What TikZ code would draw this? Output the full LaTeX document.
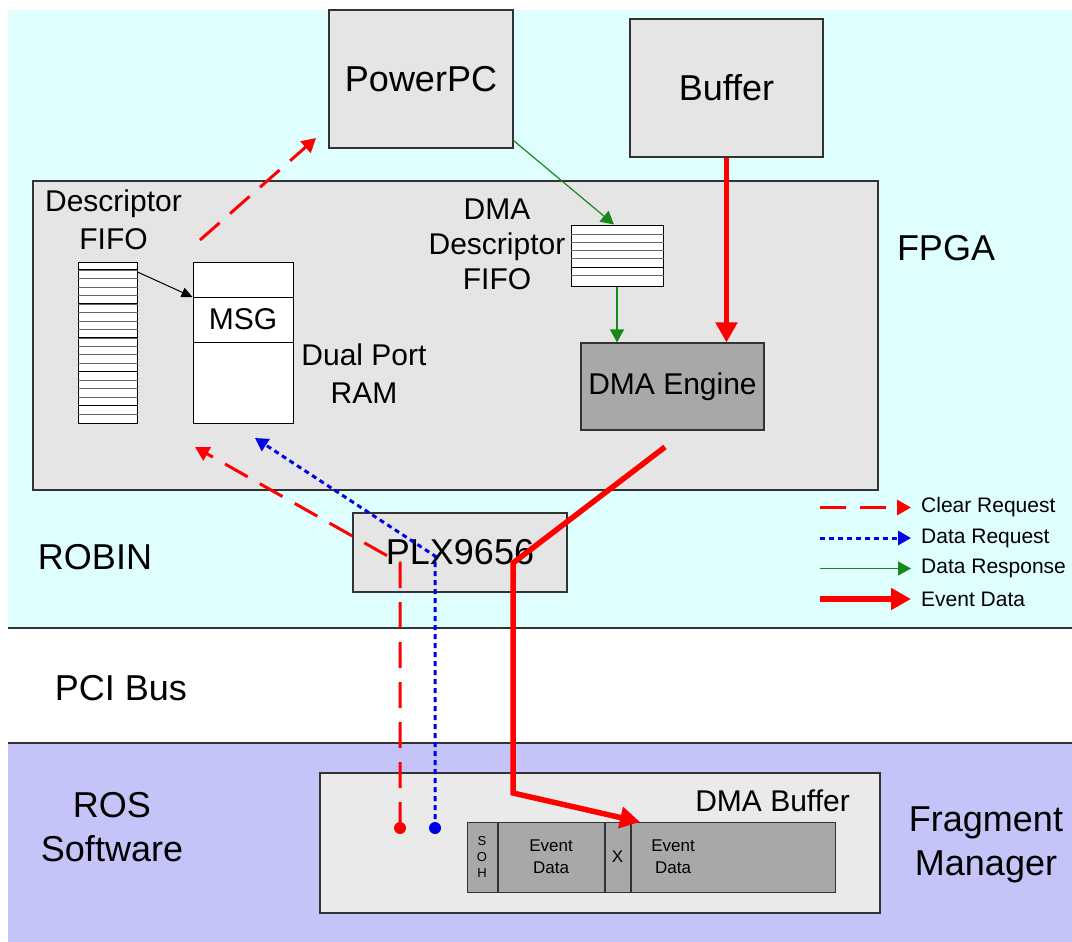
\documentclass[tikz,border=0pt]{standalone}
\usepackage{fontspec}
\setmainfont{Liberation Sans}
\usetikzlibrary{arrows.meta, positioning}

\definecolor{robincyan}{RGB}{223,255,255}
\definecolor{roslav}{RGB}{196,196,248}
\definecolor{boxgray}{RGB}{229,229,229}
\definecolor{enggray}{RGB}{168,168,168}
\definecolor{respgreen}{RGB}{25,135,25}

\begin{document}
\begin{tikzpicture}[x=1pt, y=-1pt, inner sep=0pt]
  \tikzstyle{blk}=[draw=black!80, fill=boxgray, line width=1.2pt]
  \tikzstyle{fifo}=[draw=black, fill=white, line width=1pt]
  \tikzstyle{seg}=[draw=black!80, fill=enggray, line width=1pt, minimum height=70pt]
  \tikzstyle{big}=[font=\fontsize{36}{44}\selectfont, align=center]
  \tikzstyle{mid}=[font=\fontsize{30}{38}\selectfont, align=center]
  \tikzstyle{legend}=[font=\fontsize{21}{25}\selectfont]
  \tikzstyle{small}=[font=\fontsize{17}{22}\selectfont, align=center]
  \tikzstyle{clearreq}=[red, line width=3pt, dash pattern=on 26pt off 14pt, -{Triangle[length=14pt, width=15pt]}]
  \tikzstyle{datareq}=[blue!90!black, line width=3pt, dash pattern=on 5pt off 4pt, -{Triangle[length=13pt, width=14pt]}]
  \tikzstyle{dataresp}=[respgreen, line width=1.2pt, -{Triangle[length=13pt, width=14pt]}]
  \tikzstyle{eventdata}=[red, line width=5.5pt, -{Triangle[length=20pt, width=21pt]}]

  \useasboundingbox (0,0) rectangle (1072,942);

  % layers
  \fill[white] (0,0) rectangle (1072,942);
  \fill[robincyan] (8,10) rectangle (1072,628);
  \fill[roslav] (8,743) rectangle (1072,942);
  \draw[black!80, line width=1.5pt] (8,628) -- (1072,628);
  \draw[black!80, line width=1.5pt] (8,743) -- (1072,743);

  \node[big] (robin) at (95,557) {ROBIN};
  \node[big] (pci) at (121,688) {PCI Bus};
  \node[big] (rossw) at (112,827) {ROS\\Software};
  \node[big] (fragmgr) at (986,845) {Fragment\\Manager};

  % FPGA
  \node[blk, minimum width=845pt, minimum height=309pt] (fpga) at (455.5,335.5) {};
  \node[big] (fpgalbl) at (946,248) {FPGA};
  \node[blk, minimum width=184pt, minimum height=138pt, big] (ppc) at (421,79) {PowerPC};
  \node[blk, minimum width=193pt, minimum height=138pt, big] (buf) at (726.5,88) {Buffer};

  \node[fifo, minimum width=59pt, minimum height=161pt] (dfifo) at (107.5,342.5) {};
  \foreach \i in {1,...,18}
    \draw[black!60] ([yshift=-\i*8.47pt]dfifo.north west) -- ([yshift=-\i*8.47pt]dfifo.north east);
  \foreach \i in {1,5,9,13,17}
    \draw[black, line width=1pt] ([yshift=-\i*8.47pt]dfifo.north west) -- ([yshift=-\i*8.47pt]dfifo.north east);
  \node[mid, above=12pt of dfifo, xshift=6pt] (dfifolbl) {Descriptor\\FIFO};

  \node[fifo, minimum width=100pt, minimum height=161pt] (ram) at (243,342.5) {};
  \draw[black] (ram.west |- 0,297) -- (ram.east |- 0,297);
  \draw[black] (ram.west |- 0,342) -- (ram.east |- 0,342);
  \node[mid] (msg) at (243,319.5) {MSG};
  \node[mid] (ramlbl) at (364,374) {Dual Port\\RAM};

  \node[fifo, minimum width=92pt, minimum height=61pt] (dmafifo) at (617,255.5) {};
  \foreach \d in {10,18,26,34,43,51}
    \draw[black!60] ([yshift=-\d pt]dmafifo.north west) -- ([yshift=-\d pt]dmafifo.north east);
  \draw[black, line width=1pt] ([yshift=-43pt]dmafifo.north west) -- ([yshift=-43pt]dmafifo.north east);
  \node[mid, font=\fontsize{30}{35}\selectfont] (dmafifolbl) at (497,244) {DMA\\Descriptor\\FIFO};

  \node[blk, fill=enggray, minimum width=183pt, minimum height=87pt, mid] (dmaeng) at (672.5,386.5) {DMA Engine};

  \node[blk, minimum width=214pt, minimum height=79pt, big] (plx) at (460,552.5) {PLX9656};

  % ROS side
  \node[blk, fill=boxgray!80!white, minimum width=560pt, minimum height=140pt] (ros) at (600,843) {};
  \node[mid, anchor=east] (dmabuf) at (850,801) {DMA Buffer};
  \node[seg, minimum width=30pt, font=\fontsize{13}{16}\selectfont, align=center] (soh) at (482,857) {S\\O\\H};
  \node[seg, minimum width=106pt, right=0pt of soh, small] (ev1) {Event\\Data};
  \node[seg, minimum width=25pt, right=0pt of ev1, small] (xx) {X};
  \node[seg, minimum width=204pt, right=0pt of xx] (ev2) {};
  \node[small] (ev2lbl) at (673,857) {Event\\Data};

  % connectors
  \coordinate (crdot) at (400,828);
  \coordinate (crbend) at (400,563);
  \coordinate (crend) at (195,447);
  \coordinate (drdot) at (435,828);
  \coordinate (drbend) at (435,556);
  \coordinate (drend) at (255,438);
  \coordinate (edstart) at (665,447);
  \coordinate (edbend) at (513,563);
  \coordinate (edlow) at (513,793);
  \coordinate (edend) at (640,822);
  \coordinate (ppcreq) at (200,240);
  \coordinate (ppcend) at (316,138);

  \draw[black, line width=1pt, -{Triangle[length=11pt, width=10pt]}] (dfifo.east |- 0,272) -- (ram.west |- 0,297);
  \draw[clearreq] (ppcreq) -- (ppcend);
  \draw[dataresp] ([yshift=8pt]ppc.south east) -- ([xshift=-3pt]dmafifo.north);
  \draw[dataresp] (dmafifo.south) -- (dmafifo.south |- dmaeng.north);
  \draw[eventdata] (buf.south) -- (buf.south |- dmaeng.north);
  \draw[clearreq] (crdot) -- (crbend) -- (crend);
  \draw[datareq] (drdot) -- (drbend) -- (drend);
  \draw[eventdata] (edstart) -- (edbend) -- (edlow) -- (edend);
  \fill[red] (crdot) circle (6pt);
  \fill[blue!90!black] (drdot) circle (6pt);

  % legend
  \foreach \st/\txt [count=\i] in {clearreq/Clear Request, datareq/Data Request, dataresp/Data Response, eventdata/Event Data} {
    \node[legend, anchor=west] (leg\i) at (921,{477+30.5*\i}) {\txt};
    \draw[\st] ([xshift=-101pt]leg\i.west) -- ([xshift=-10pt]leg\i.west);
  }
\end{tikzpicture}
\end{document}
